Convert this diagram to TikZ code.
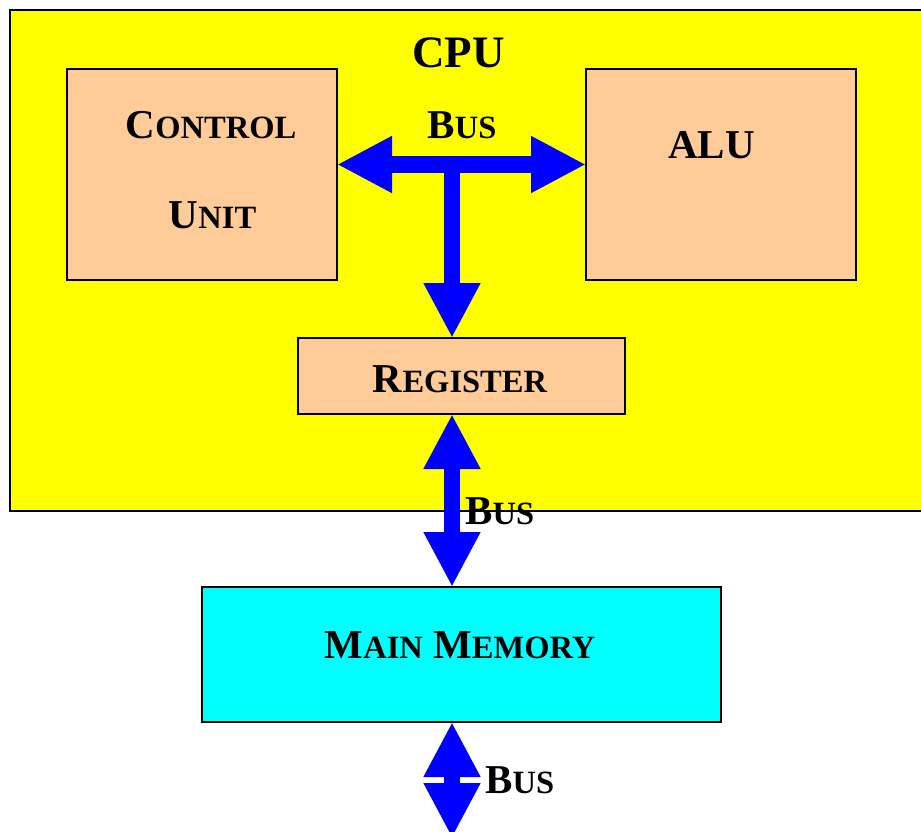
\documentclass[tikz,border=0pt]{standalone}
\usepackage{fontspec}
\setmainfont{Liberation Serif}
\usetikzlibrary{arrows.meta}
\definecolor{cpuyellow}{HTML}{FFFF00}
\definecolor{unitpeach}{HTML}{FFCC99}
\definecolor{memcyan}{HTML}{00FFFF}
\definecolor{busblue}{HTML}{0000FF}
% fake small capitals: full-size initial, reduced capitals after it
\newcommand\capsinit[2]{#1{\fontsize{32.5}{32.5}\selectfont #2}}
\tikzset{
  block/.style={draw=black, line width=2pt, inner sep=0pt, outer sep=0pt},
  unitbox/.style={block, fill=unitpeach},
  lbl/.style={anchor=base, inner sep=0pt, font=\fontsize{41}{41}\selectfont\bfseries},
  bus/.style={draw=busblue, line width=16pt, >={Triangle[length=55pt, width=53pt]}},
}
\begin{document}
\begin{tikzpicture}[x=1pt, y=-1pt]
  \useasboundingbox (0,0) rectangle (921,832);
  \clip (0,0) rectangle (921,832);

  % processor housing
  \node[block, fill=cpuyellow, minimum width=950pt, minimum height=501pt] (cpu) at (485,260.5) {};

  % functional units
  \node[unitbox, minimum width=270pt, minimum height=211pt] (cu) at (202,174.5) {};
  \node[unitbox, minimum width=270pt, minimum height=211pt] (alu) at (721,174.5) {};
  \node[unitbox, minimum width=327pt, minimum height=76pt] (reg) at (461.5,376) {};
  \node[block, fill=memcyan, minimum width=519pt, minimum height=135pt] (mm) at (461.5,654.5) {};

  % labels
  \node[lbl, font=\fontsize{45}{45}\selectfont\bfseries] (tcpu) at (458.5,68) {CPU};
  \node[lbl] (tcu1) at (211,139) {\capsinit{C}{ONTROL}};
  \node[lbl] (tcu2) at (212.5,228) {\capsinit{U}{NIT}};
  \node[lbl] (talu) at (711.5,158) {ALU};
  \node[lbl] (treg) at (460,392) {\capsinit{R}{EGISTER}};
  \node[lbl] (tmm) at (460,658) {\capsinit{M}{AIN} \capsinit{M}{EMORY}};
  \node[lbl] (tbus1) at (462,139) {\capsinit{B}{US}};
  \node[lbl, anchor=base west] (tbus2) at (465,524) {\capsinit{B}{US}};
  \node[lbl, anchor=base west] (tbus3) at (485,793) {\capsinit{B}{US}};

  % internal bus
  \coordinate (hub) at (452,164.5);
  \coordinate (busend) at (452,838);
  \draw[bus, <->] (hub -| cu.east) -- (hub -| alu.west);
  \draw[bus, ->] (hub) -- (hub |- reg.north);

  % external buses
  \draw[bus, <->] (hub |- reg.south) -- (hub |- mm.north);
  \draw[bus, <->] (hub |- mm.south) -- (busend);
\end{tikzpicture}
\end{document}
